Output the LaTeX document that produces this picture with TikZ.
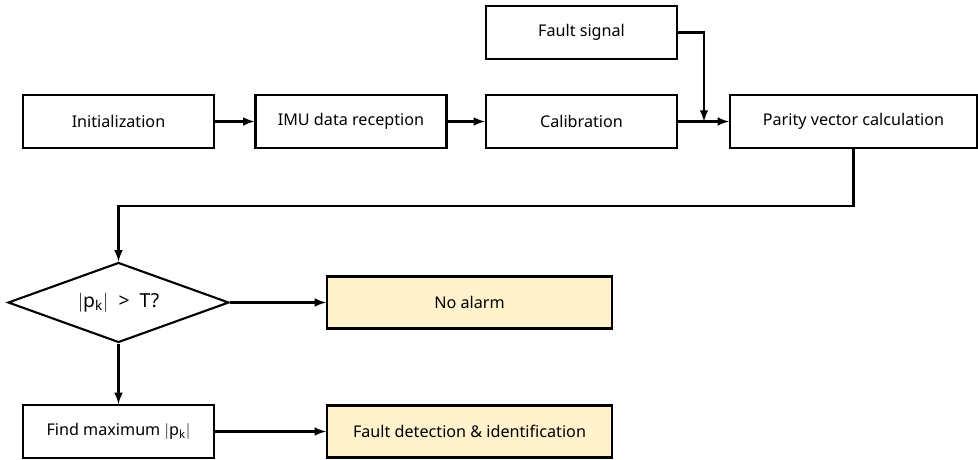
\documentclass[tikz,border=0pt]{standalone}
\usepackage{fontspec}
\setmainfont{Noto Sans}
\usetikzlibrary{shapes.geometric}
\definecolor{resultfill}{HTML}{FFF2CC}
\begin{document}
\begin{tikzpicture}[>=latex,
    x=0.02cm,y=-0.02cm,
    every node/.style={font=\fontsize{9.2}{11}\selectfont},
    block/.style={draw=black,line width=1.2pt,minimum width=3.82cm,minimum height=1.06cm,inner sep=0pt},
    wideblock/.style={block,minimum width=4.94cm},
    result/.style={block,fill=resultfill,minimum width=5.7cm,minimum height=1.04cm},
    decision/.style={diamond,aspect=2.75,draw=black,line width=1.2pt,inner sep=0pt,minimum width=4.42cm,minimum height=1.6cm,font=\fontsize{11}{13}\selectfont},
    flow/.style={->,line width=1.2pt}]
%
\useasboundingbox (0,0) rectangle (978,460);
%
% ============ obere Reihe ============
\node[block] (init) at (118.5,121.5) {Initialization};
\node[block] (imu)  at (351,121.5)   {IMU data reception};
\node[block] (cal)  at (581.5,121.5) {Calibration};
\node[block] (fs)   at (581.5,32.5)  {Fault signal};
\node[wideblock] (par) at (853.5,121.5) {Parity vector calculation};
%
% ============ Entscheidung ============
\node[decision] (chk) at (118.5,302.5) {$|$p\textsubscript{k}$|$ \ > \ T?};
\node[result] (noal) at (469.5,302.5) {No alarm};
%
% ============ untere Reihe ============
\node[block] (fmax) at (118.5,431.5) {Find maximum $|$p\textsubscript{k}$|$};
\node[result] (fdi) at (469.5,431.5) {Fault detection \& identification};
%
% Hilfspunkte
\coordinate (join) at (704,121.5);
\coordinate (fb) at (0,206);
%
% Pfeile
\draw[flow] (init) -- (imu);
\draw[flow] (imu) -- (cal);
\draw[flow] (cal) -- (par);
\draw[flow] (fs.east) -| (join);
\draw[flow] (par.south) |- (chk.north |- fb) -- (chk.north);
\draw[flow] (chk.east) -- (noal.west);
\draw[flow] (chk.south) -- (fmax.north);
\draw[flow] (fmax.east) -- (fdi.west);
%
\end{tikzpicture}
\end{document}
